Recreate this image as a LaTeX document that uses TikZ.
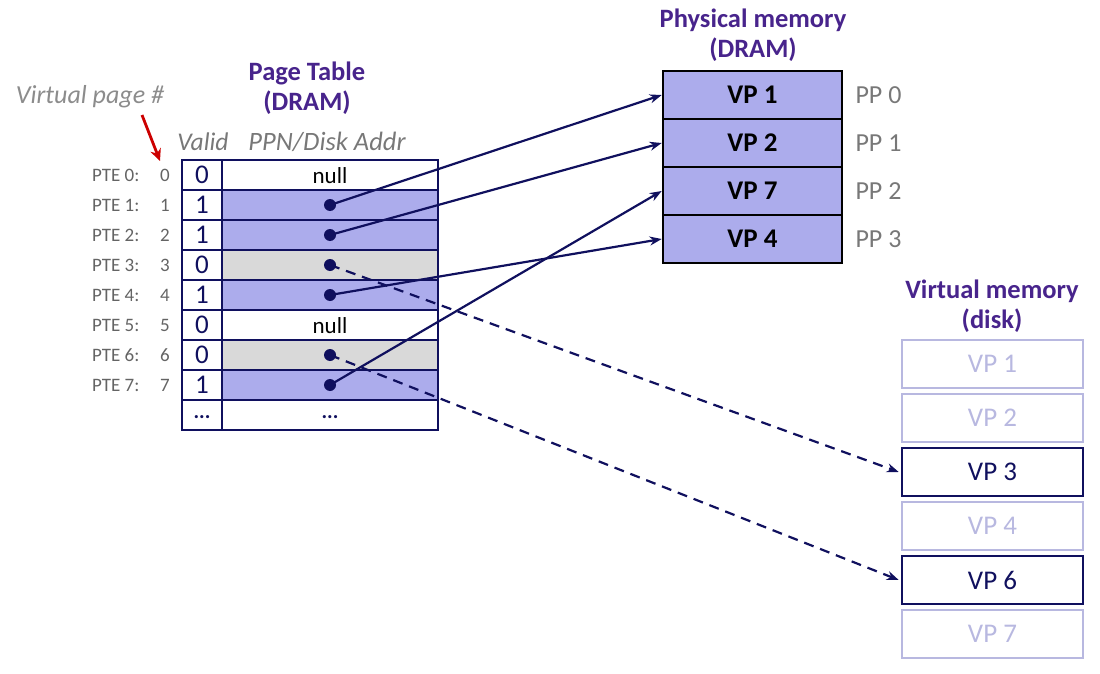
\documentclass[tikz,border=0pt]{standalone}
\usepackage{fontspec}
\setmainfont{Carlito}
\usetikzlibrary{arrows.meta}
\definecolor{navy}{RGB}{16,16,94}
\definecolor{pfill}{RGB}{172,172,236}
\definecolor{gfill}{RGB}{217,217,217}
\definecolor{ttl}{RGB}{72,36,140}
\definecolor{gtxt}{RGB}{100,100,100}
\definecolor{ltxt}{RGB}{120,120,120}
\definecolor{light}{RGB}{184,184,224}
\begin{document}
\begin{tikzpicture}[x=1pt,y=-1pt,
  title/.style={text=ttl,font=\fontsize{26.5}{30}\selectfont\bfseries,align=center},
  cell/.style={draw=navy,line width=2.6pt},
  pte/.style={text=gtxt,font=\fontsize{19}{21}\selectfont,anchor=east},
  bit/.style={text=navy,font=\fontsize{27}{29}\selectfont},
  hdr/.style={text=ltxt,font=\fontsize{26.5}{28}\selectfont\itshape},
  pmem/.style={draw=black,line width=2.6pt,fill=pfill,minimum width=179pt,minimum height=48pt,inner sep=0pt,font=\fontsize{27}{29}\selectfont\bfseries},
  ppl/.style={text=ltxt,font=\fontsize{26}{28}\selectfont},
  vlight/.style={draw=light,line width=2.6pt,text=light,minimum width=181pt,minimum height=48pt,inner sep=0pt,font=\fontsize{27}{29}\selectfont},
  vdark/.style={draw=navy,line width=2.6pt,text=navy,minimum width=181pt,minimum height=48pt,inner sep=0pt,font=\fontsize{27}{29}\selectfont},
  ptr/.style={draw=navy,line width=2.2pt,-{Stealth[length=12pt,width=9pt]}},
  dot/.style={circle,fill=navy,inner sep=0pt,minimum size=12pt},
  ell/.style={text=navy,font=\fontsize{21}{23}\selectfont\bfseries,inner sep=0pt}
]
\useasboundingbox (0,0) rectangle (1100,674);

% titles
\node[title] (pttl) at (307,88) {Page Table\\(DRAM)};
\node[title] (pmttl) at (753,35) {Physical memory\\(DRAM)};
\node[title] (vmttl) at (992,306) {Virtual memory\\(disk)};

\node[hdr,text=gray!90,font=\fontsize{26}{28}\selectfont\itshape] (vpn) at (90,97) {Virtual page \#};
\node[hdr,font=\fontsize{25.5}{28}\selectfont\itshape] (valid) at (203,142) {Valid};
\node[hdr] (ppnh) at (327,142) {PPN/Disk Addr};

% page table fills
\foreach \r/\c in {1/pfill,2/pfill,3/gfill,4/pfill,6/gfill,7/pfill}{
  \fill[\c] (222,160+30*\r) rectangle (438,190+30*\r);
}
% page table grid
\foreach \r in {1,...,8}{
  \draw[cell] (182,160+30*\r) -- (438,160+30*\r);
}
\draw[cell] (182,160) rectangle (438,430);
\draw[cell] (222,160) -- (222,430);

% valid bits and labels
\foreach \r/\v in {0/0,1/1,2/1,3/0,4/1,5/0,6/0,7/1}{
  \node[bit] (v\r) at (202,175+30*\r) {\v};
  \node[pte] (pl\r) at (143,175+30*\r) {PTE \r:};
  \node[text=gtxt,font=\fontsize{19}{21}\selectfont] (pn\r) at (165,175+30*\r) {\r};
}
\node[ell] (vdots) at (202,417) {...};
\node[ell] (pdots) at (330,417) {...};
\node[text=black,font=\fontsize{23}{25}\selectfont] (null0) at (330,176) {null};
\node[text=black,font=\fontsize{23}{25}\selectfont] (null5) at (330,326) {null};

% pointers
\foreach \r in {1,2,3,4,6,7}{
  \node[dot] (d\r) at (330,175+30*\r) {};
}

% physical memory
\node[pmem] (pp0) at (752.5,95) {VP 1};
\node[pmem] (pp1) at (752.5,143) {VP 2};
\node[pmem] (pp2) at (752.5,191) {VP 7};
\node[pmem] (pp3) at (752.5,239) {VP 4};
\foreach \i in {0,...,3}{
  \node[ppl,anchor=west] (ppl\i) at (852,95+48*\i) {PP \i};
}

% virtual memory
\node[vlight] (vm1) at (992.5,364) {VP 1};
\node[vlight] (vm2) at (992.5,418) {VP 2};
\node[vdark]  (vm3) at (992.5,472) {VP 3};
\node[vlight] (vm4) at (992.5,526) {VP 4};
\node[vdark]  (vm6) at (992.5,580) {VP 6};
\node[vlight] (vm7) at (992.5,634) {VP 7};

% arrows
\draw[ptr] (d1.center) -- (pp0.west);
\draw[ptr] (d2.center) -- (pp1.west);
\draw[ptr] (d7.center) -- (pp2.west);
\draw[ptr] (d4.center) -- (pp3.west);
\draw[ptr,dash pattern=on 10pt off 7pt] (d3.center) -- ([xshift=-2pt]vm3.west);
\draw[ptr,dash pattern=on 10pt off 7pt] (d6.center) -- ([xshift=-2pt]vm6.west);

% red arrow
\coordinate (ra) at (142,115);
\coordinate (rb) at (160,161);
\draw[red!80!black,line width=2.8pt,-{Stealth[length=12pt,width=11pt]}] (ra) -- (rb);
\end{tikzpicture}
\end{document}
